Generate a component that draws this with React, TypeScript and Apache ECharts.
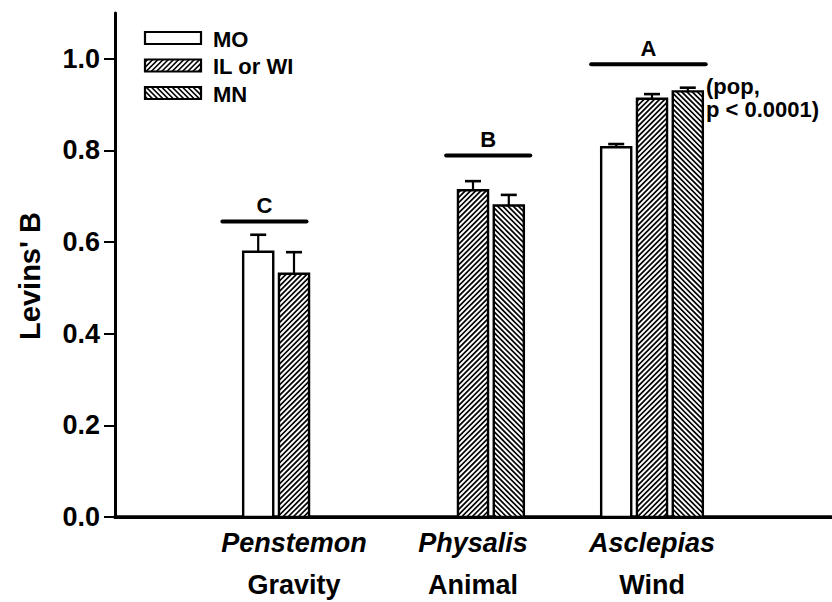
import React, { useEffect, useRef } from "react";
import * as echarts from "echarts";

// Populations sampled for each genus
const populations = ["MO", "IL or WI", "MN"];
const genera = ["Penstemon", "Physalis", "Asclepias"];
const dispersal = ["Gravity", "Animal", "Wind"];
const genusPositions = [1, 2, 3];

// Levins' B (mean and standard error) by genus; null = population not sampled
const moMean = [0.579, null, 0.807];
const moErr = [0.037, null, 0.007];
const ilMean = [0.531, 0.713, 0.913];
const ilErr = [0.047, 0.02, 0.01];
const mnMean = [null, 0.68, 0.929];
const mnErr = [null, 0.023, 0.008];

// Significance groupings drawn above the genera (x extent in axis units, y level)
const groupLetters = ["C", "B", "A"];
const groupFrom = [0.6, 1.85, 2.66];
const groupTo = [1.07, 2.32, 3.3];
const groupLevel = [0.645, 0.789, 0.988];

const yTicks = [0, 0.2, 0.4, 0.6, 0.8, 1.0];

const FONT = "'Liberation Sans', Arial, sans-serif";
const BAR_PITCH = 0.2; // axis units between neighbouring bars of a genus
const BAR_WIDTH = 0.168; // axis units
const HATCH_PERIOD = 5.2;
const HATCH_WIDTH = 1.7;

type Hatch = "none" | "up" | "down";
const hatches: Hatch[] = ["none", "up", "down"];
const means = [moMean, ilMean, mnMean];
const errs = [moErr, ilErr, mnErr];

// Diagonal hatch segments clipped to a rectangle
function hatchLines(x0: number, y0: number, x1: number, y1: number, dir: Hatch) {
  const out: any[] = [];
  if (dir === "none") return out;
  const seg = (a: number[], b: number[]) =>
    out.push({
      type: "line",
      shape: { x1: a[0], y1: a[1], x2: b[0], y2: b[1] },
      style: { stroke: "#000", lineWidth: HATCH_WIDTH },
      silent: true,
    });
  if (dir === "up") {
    // x + y = c
    for (let c = x0 + y0 + HATCH_PERIOD / 2; c < x1 + y1; c += HATCH_PERIOD) {
      const xa = Math.max(x0, c - y1);
      const xb = Math.min(x1, c - y0);
      if (xb > xa) seg([xa, c - xa], [xb, c - xb]);
    }
  } else {
    // x - y = c
    for (let c = x0 - y1 + HATCH_PERIOD / 2; c < x1 - y0; c += HATCH_PERIOD) {
      const xa = Math.max(x0, c + y0);
      const xb = Math.min(x1, c + y1);
      if (xb > xa) seg([xa, xa - c], [xb, xb - c]);
    }
  }
  return out;
}

function barSeries(idx: number) {
  const data: number[][] = [];
  genusPositions.forEach((p, i) => {
    const m = means[idx][i];
    const e = errs[idx][i];
    if (m != null && e != null) data.push([p + (idx - 1) * BAR_PITCH, m, e]);
  });
  return {
    type: "custom",
    name: populations[idx],
    xAxisIndex: 0,
    yAxisIndex: 0,
    data,
    clip: false,
    renderItem: (_params: any, api: any) => {
      const x = api.value(0);
      const v = api.value(1);
      const e = api.value(2);
      const base = api.coord([x, 0]);
      const top = api.coord([x, v]);
      const cap = api.coord([x, v + e]);
      const w = api.size([BAR_WIDTH, 0])[0];
      const cx = top[0];
      const x0 = cx - w / 2;
      const x1 = cx + w / 2;
      const y0 = top[1];
      const y1 = base[1];
      return {
        type: "group",
        children: [
          {
            type: "rect",
            shape: { x: x0, y: y0, width: w, height: y1 - y0 },
            style: { fill: "#fff" },
          },
          ...hatchLines(x0, y0, x1, y1, hatches[idx]),
          {
            type: "rect",
            shape: { x: x0, y: y0, width: w, height: y1 - y0 },
            style: { fill: "none", stroke: "#000", lineWidth: 2.4 },
          },
          {
            type: "line",
            shape: { x1: cx, y1: y0, x2: cx, y2: cap[1] },
            style: { stroke: "#000", lineWidth: 2.2 },
          },
          {
            type: "line",
            shape: { x1: cx - 8, y1: cap[1], x2: cx + 8, y2: cap[1] },
            style: { stroke: "#000", lineWidth: 2.6 },
          },
        ],
      };
    },
  };
}

const groupSeries = {
  type: "custom",
  name: "groups",
  xAxisIndex: 0,
  yAxisIndex: 0,
  clip: false,
  data: groupLetters.map((_, i) => [groupFrom[i], groupTo[i], groupLevel[i], i]),
  renderItem: (_params: any, api: any) => {
    const a = api.coord([api.value(0), api.value(2)]);
    const b = api.coord([api.value(1), api.value(2)]);
    const letter = groupLetters[api.value(3)];
    return {
      type: "group",
      children: [
        {
          type: "line",
          shape: { x1: a[0], y1: a[1], x2: b[0], y2: b[1] },
          style: { stroke: "#000", lineWidth: 4, lineCap: "round" },
        },
        {
          type: "text",
          style: {
            text: letter,
            x: (a[0] + b[0]) / 2,
            y: a[1] - 16,
            align: "center",
            verticalAlign: "middle",
            font: `bold 22px ${FONT}`,
            fill: "#000",
          },
        },
      ],
    };
  },
};

function extraGraphics() {
  const items: any[] = [];
  populations.forEach((name, i) => {
    const x0 = 145;
    const y0 = 32 + i * 27.5;
    const w = 56;
    const h = 12;
    items.push({
      type: "group",
      children: [
        { type: "rect", shape: { x: x0, y: y0, width: w, height: h }, style: { fill: "#fff" } },
        ...hatchLines(x0, y0, x0 + w, y0 + h, hatches[i]),
        {
          type: "rect",
          shape: { x: x0, y: y0, width: w, height: h },
          style: { fill: "none", stroke: "#000", lineWidth: 2.2 },
        },
        {
          type: "text",
          style: {
            text: name,
            x: 213,
            y: y0 + h / 2 + 1,
            verticalAlign: "middle",
            font: `bold 22px ${FONT}`,
            fill: "#000",
          },
        },
      ],
    });
  });
  items.push({
    type: "text",
    style: {
      text: "(pop,\np < 0.0001)",
      x: 706,
      y: 75,
      font: `bold 22px ${FONT}`,
      lineHeight: 23,
      fill: "#000",
    },
  });
  items.push({
    type: "text",
    x: 30,
    y: 276,
    rotation: Math.PI / 2,
    style: {
      text: "Levins' B",
      x: 0,
      y: 0,
      align: "center",
      verticalAlign: "middle",
      font: `bold 29px ${FONT}`,
      fill: "#000",
    },
  });
  return items;
}

export default function App() {
  const ref = useRef<HTMLDivElement>(null);
  useEffect(() => {
    document.body.style.margin = "0";
    if (!ref.current) return;
    const chart = echarts.init(ref.current, undefined, { renderer: "svg" });
    chart.setOption({
      animation: false,
      backgroundColor: "#fff",
      grid: { left: 115, right: 1, top: 13, bottom: 85 },
      xAxis: [
        {
          type: "value",
          position: "bottom",
          min: 0,
          max: 4,
          interval: 1,
          splitLine: { show: false },
          axisTick: { show: false },
          axisLine: { lineStyle: { color: "#000", width: 3.5 } },
          axisLabel: {
            customValues: genusPositions,
            margin: 5,
            formatter: (v: number) => {
              const i = genusPositions.indexOf(v);
              return i < 0 ? "" : `{g|${genera[i]}}\n{d|${dispersal[i]}}`;
            },
            rich: {
              g: { fontFamily: FONT, fontWeight: "bold", fontStyle: "italic", fontSize: 27, lineHeight: 42, color: "#000" },
              d: { fontFamily: FONT, fontWeight: "bold", fontSize: 27, lineHeight: 42, color: "#000" },
            },
          },
        },
        {
          type: "value",
          position: "top",
          min: 0,
          max: 4,
          splitLine: { show: false },
          axisTick: { show: false },
          axisLabel: { show: false },
          axisLine: { lineStyle: { color: "#000", width: 3 } },
        },
      ],
      yAxis: [
        {
          type: "value",
          min: 0,
          max: 1.1,
          interval: 0.2,
          splitLine: { show: false },
          axisLine: { lineStyle: { color: "#000", width: 3 } },
          axisTick: { customValues: yTicks, length: 11, lineStyle: { color: "#000", width: 2 } },
          axisLabel: {
            customValues: yTicks,
            margin: 15,
            formatter: (v: number) => v.toFixed(1),
            fontFamily: FONT,
            fontWeight: "bold",
            fontSize: 27,
            color: "#000",
          },
        },
        {
          type: "value",
          position: "right",
          min: 0,
          max: 1.1,
          splitLine: { show: false },
          axisTick: { show: false },
          axisLabel: { show: false },
          axisLine: { lineStyle: { color: "#000", width: 1.5 } },
        },
      ],
      series: [barSeries(0), barSeries(1), barSeries(2), groupSeries],
      graphic: extraGraphics(),
    });
    return () => chart.dispose();
  }, []);
  return <div ref={ref} style={{ width: 832, height: 602 }} />;
}
